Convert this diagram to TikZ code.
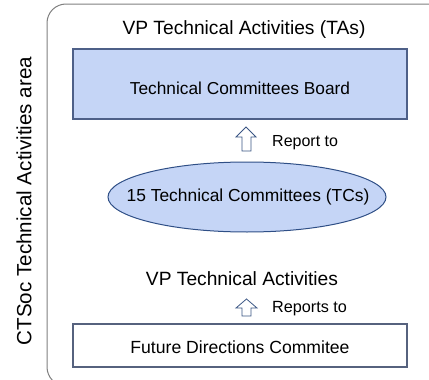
\documentclass[tikz,border=0pt]{standalone}
\usepackage{fontspec}
\setmainfont{Liberation Sans}
\usetikzlibrary{shapes.geometric}
\definecolor{boxblue}{HTML}{C5D5F6}
\definecolor{boxedge}{HTML}{4E6088}
\definecolor{elledge}{HTML}{2F4F86}
\definecolor{arrowedge}{HTML}{3A5584}
\definecolor{frameclr}{HTML}{7F7F7F}
\definecolor{lowedge}{HTML}{56627E}
\begin{document}
\begin{tikzpicture}[x=1pt,y=-1pt,
  lbl/.style={inner sep=0pt, text=black},
  bluebox/.style={draw=boxedge, fill=boxblue, line width=1.2pt},
  hollowarrow/.style={draw=arrowedge, fill=white, line width=0.8pt, line join=miter},
]
\useasboundingbox (0,0) rectangle (429,380);
\clip (0,0) rectangle (429,380);
% frame
\coordinate (ftr) at (432,4);
\coordinate (ftl) at (47,4);
\coordinate (fbl) at (47,386);
\coordinate (fbr) at (432,386);
\draw[frameclr, line width=1pt, rounded corners=19pt] (ftr) -- (ftl) -- (fbl) -- (fbr);
% side label
\node[lbl, rotate=90, font=\fontsize{20.6}{24}\selectfont] (side) at (24,201) {CTSoc Technical Activities area};
% top title
\node[lbl, font=\fontsize{19.2}{23}\selectfont] (vpta) at (244,30) {VP Technical Activities (TAs)};
% board box
\node[bluebox, minimum width=334pt, minimum height=70pt, inner sep=0pt] (board) at (240,84) {};
\node[lbl, font=\fontsize{17.3}{21}\selectfont] (boardtxt) at (240,88) {Technical Committees Board};
% arrow 1
\draw[hollowarrow] (246,127) -- (256,137) -- (251,137) -- (251,151) -- (242,151) -- (242,137) -- (236,137) -- cycle;
\node[lbl, anchor=west, font=\fontsize{16}{19}\selectfont] (rep1) at (272,143) {Report to};
% ellipse
\node[draw=elledge, fill=boxblue, line width=1pt, ellipse, minimum width=278pt, minimum height=70pt, inner sep=0pt] (tcs) at (247,197) {};
\node[lbl, font=\fontsize{17.4}{21}\selectfont] (tcstxt) at (248,197) {15 Technical Committees (TCs)};
% second title
\node[lbl, font=\fontsize{19.2}{23}\selectfont] (vp2) at (242,279) {VP Technical Activities};
% arrow 2
\draw[hollowarrow] (246.5,299) -- (257,308) -- (251,308) -- (251,316) -- (242,316) -- (242,308) -- (236,308) -- cycle;
\node[lbl, anchor=west, font=\fontsize{16.2}{19}\selectfont] (rep2) at (272,309) {Reports to};
% bottom box
\node[draw=lowedge, fill=white, line width=1.2pt, minimum width=334pt, minimum height=43pt, inner sep=0pt] (fdc) at (240,345.5) {};
\node[lbl, font=\fontsize{17.6}{21}\selectfont] (fdctxt) at (240,347) {Future Directions Commitee};
\end{tikzpicture}
\end{document}
